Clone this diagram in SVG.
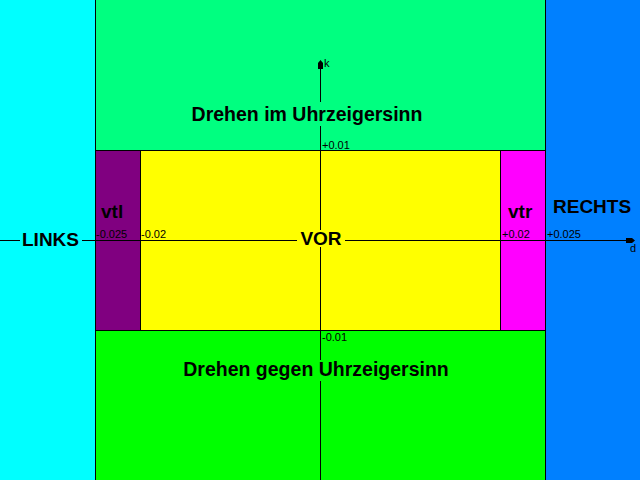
<svg xmlns="http://www.w3.org/2000/svg" width="640" height="480" viewBox="0 0 640 480">
<style>
.b{font-family:"Liberation Sans",Arial,sans-serif;font-weight:bold;font-size:19px;fill:#000}
.d{font-size:19.5px}
.s{font-family:"Liberation Sans",Arial,sans-serif;font-size:11px;fill:#000}
.ln{stroke:#000;stroke-width:1;fill:none}
</style>
<g id="links"><rect x="0" y="0" width="95.5" height="480" fill="#00FFFF"/></g>
<g id="rechts"><rect x="545.5" y="0" width="94.5" height="480" fill="#0080FF"/></g>
<g id="uhrzeigersinn"><rect x="95.5" y="0" width="450" height="150.5" fill="#00FF80"/></g>
<g id="gegen"><rect x="95.5" y="330.5" width="450" height="149.5" fill="#00FF00"/></g>
<g id="vtl"><rect x="95.5" y="150.5" width="45" height="180" fill="#800080"/></g>
<g id="vor"><rect x="140.5" y="150.5" width="360" height="180" fill="#FFFF00"/></g>
<g id="vtr"><rect x="500.5" y="150.5" width="45" height="180" fill="#FF00FF"/></g>
<g id="borders" class="ln">
<line x1="95.5" y1="0" x2="95.5" y2="480"/>
<line x1="545.5" y1="0" x2="545.5" y2="480"/>
<line x1="95.5" y1="150.5" x2="545.5" y2="150.5"/>
<line x1="95.5" y1="330.5" x2="545.5" y2="330.5"/>
<line x1="140.5" y1="150.5" x2="140.5" y2="330.5"/>
<line x1="500.5" y1="150.5" x2="500.5" y2="330.5"/>
</g>
<g id="connectors">
<line class="ln" x1="0" y1="240.5" x2="630" y2="240.5"/>
<polygon points="626,238 632,238 635,240.5 632,243 626,243" fill="#000"/>
<line class="ln" x1="320.5" y1="66" x2="320.5" y2="480"/>
<polygon points="318,69 318,63 320.5,60 323,63 323,69" fill="#000"/>
</g>
<g id="labels">
<rect x="20" y="229" width="62" height="20" fill="#00FFFF"/>
<text class="b" x="22" y="246">LINKS</text>
<rect x="297" y="230" width="48" height="17" fill="#FFFF00"/>
<text class="b" x="321" y="245" text-anchor="middle">VOR</text>
<rect x="189" y="102" width="236" height="24" fill="#00FF80"/>
<text class="b d" x="307" y="121" text-anchor="middle">Drehen im Uhrzeigersinn</text>
<rect x="180" y="360" width="272" height="21" fill="#00FF00"/>
<text class="b d" x="316" y="376" text-anchor="middle">Drehen gegen Uhrzeigersinn</text>
<text class="b" x="553" y="213">RECHTS</text>
<text class="b" x="101" y="218">vtl</text>
<text class="b" x="508" y="218">vtr</text>
<text class="s" x="96" y="238">-0.025</text>
<text class="s" x="141" y="238">-0.02</text>
<text class="s" x="502" y="238">+0.02</text>
<text class="s" x="547" y="238">+0.025</text>
<text class="s" x="322" y="149">+0.01</text>
<text class="s" x="322" y="341">-0.01</text>
<text class="s" x="324" y="67">k</text>
<text class="s" x="630" y="252">d</text>
</g>
</svg>
